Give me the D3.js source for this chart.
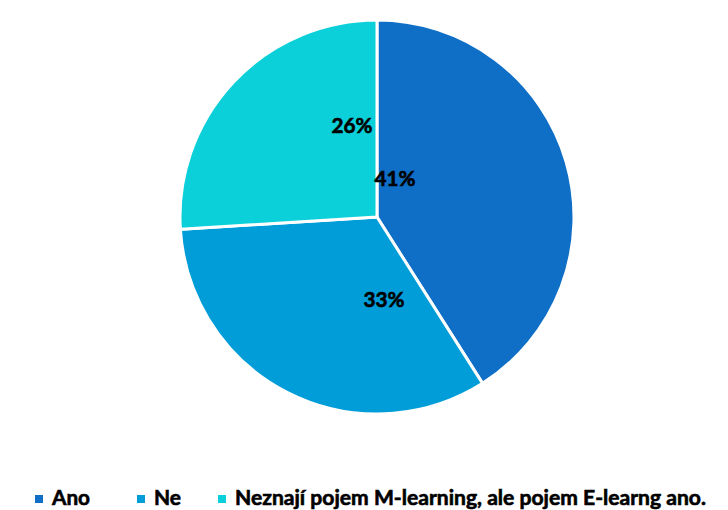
<!DOCTYPE html>
<html>
<head>
<meta charset="utf-8">
<script src="https://cdn.jsdelivr.net/npm/d3@7"></script>
<style>
  html, body { margin: 0; padding: 0; background: #fff; }
  svg { display: block; }
  text { font-family: Lato, "Open Sans", sans-serif; font-weight: 700; fill: #000; stroke: #000; stroke-width: 0.6px; }
</style>
</head>
<body>
<svg id="chart" width="728" height="510"></svg>
<script>
const categories = ["Ano", "Ne", "Neznají pojem M-learning, ale pojem E-learng ano."];
const values = [41, 33, 26];
const valueLabels = ["41%", "33%", "26%"];
const colors = ["#0F6FC6", "#009DD9", "#0BD0D9"];
// label baseline anchors, in units of the pie radius (as placed in the original)
const labelOffsetX = [0.091, 0.036, -0.127];
const labelOffsetY = [-0.157, 0.457, -0.426];
// legend text widths in the original (px), used to fit the substitute font
const legendWidths = [38, 27, 471];
const valueLabelWidth = 41;

const svg = d3.select("#chart");
const cx = 377, cy = 217, R = 197;

const pie = d3.pie().sort(null).value(d => d).startAngle(0).endAngle(2 * Math.PI);
const arcs = pie(values);
const arc = d3.arc().innerRadius(0).outerRadius(R);

const g = svg.append("g").attr("transform", `translate(${cx},${cy})`);
g.selectAll("path.slice")
  .data(arcs)
  .join("path")
  .attr("class", "slice")
  .attr("d", arc)
  .attr("fill", (d, i) => colors[i])
  .attr("stroke", "#fff")
  .attr("stroke-width", 3)
  .attr("stroke-linejoin", "miter");

const rScale = d3.scaleLinear().domain([0, 1]).range([0, R]);
g.selectAll("text.lbl")
  .data(arcs)
  .join("text")
  .attr("class", "lbl")
  .attr("x", (d, i) => rScale(labelOffsetX[i]) - valueLabelWidth / 2)
  .attr("y", (d, i) => rScale(labelOffsetY[i]))
  .attr("textLength", valueLabelWidth)
  .attr("lengthAdjust", "spacingAndGlyphs")
  .style("font-size", "20px")
  .text((d, i) => valueLabels[i]);

// legend
const legendX = [35, 137, 218];
const legend = svg.append("g");
categories.forEach((c, i) => {
  legend.append("rect")
    .attr("x", legendX[i]).attr("y", 495)
    .attr("width", 8).attr("height", 8)
    .attr("fill", colors[i]);
  legend.append("text")
    .attr("x", legendX[i] + 17).attr("y", 505)
    .style("font-size", "20px")
    .attr("textLength", legendWidths[i])
    .attr("lengthAdjust", "spacingAndGlyphs")
    .text(c);
});
</script>
</body>
</html>
